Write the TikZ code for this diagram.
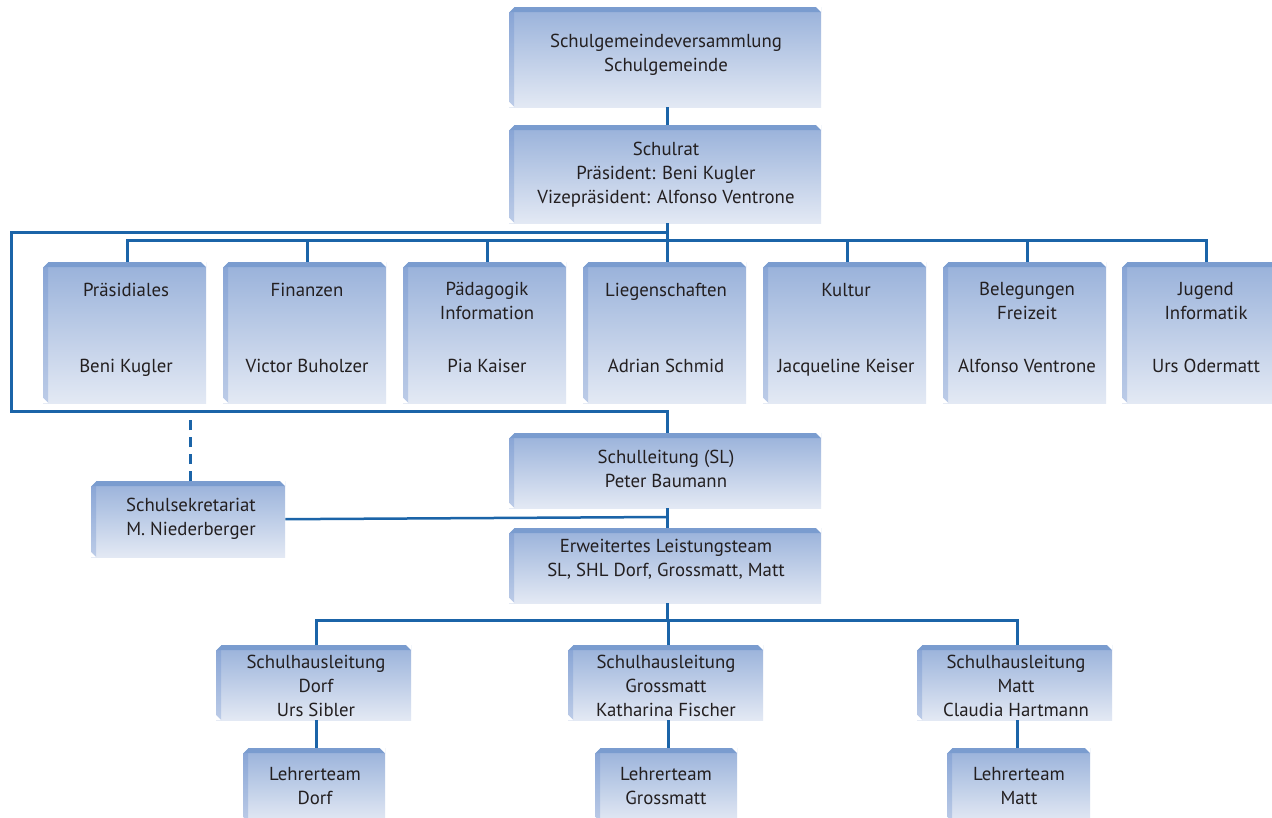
\documentclass[tikz,border=0pt]{standalone}
\usepackage{fontspec}
\setmainfont{PT Sans}
\definecolor{linec}{HTML}{1B64A8}
\definecolor{topc}{HTML}{98B1DA}
\definecolor{botc}{HTML}{E3E9F4}
\definecolor{stripc}{HTML}{7A9CCF}
\definecolor{bevc}{HTML}{5A82C8}
\definecolor{txtc}{HTML}{231F20}
\tikzset{
  box/.style={rectangle, anchor=north west, inner sep=0pt, draw=none,
    top color=topc, bottom color=botc,
    path picture={
      \coordinate (nw) at (path picture bounding box.north west);
      \coordinate (ne) at (path picture bounding box.north east);
      \coordinate (sw) at (path picture bounding box.south west);
      \fill[bevc, opacity=0.28] ($(nw)+(0,-5pt)$) -- ($(nw)+(5pt,-5pt)$) -- ($(sw)+(5pt,0)$) -- ($(sw)+(0,5pt)$) -- cycle;
      \fill[stripc] ($(nw)+(0,-5pt)$) -- ($(nw)+(5pt,0)$) -- ($(ne)+(-5pt,0)$) -- ($(ne)+(0,-5pt)$) -- cycle;
      \fill[white] (nw) -- ($(nw)+(5pt,0)$) -- ($(nw)+(0,-5pt)$) -- cycle;
      \fill[white] (ne) -- ($(ne)+(-5pt,0)$) -- ($(ne)+(0,-5pt)$) -- cycle;
      \fill[white] (sw) -- ($(sw)+(5pt,0)$) -- ($(sw)+(0,5pt)$) -- cycle;
    }},
  txt/.style={align=center, font=\fontsize{18.8}{24}\selectfont, text=txtc, inner sep=0pt},
  txtone/.style={txt, text height=13pt, text depth=4pt},
  conn/.style={draw=linec, line width=3pt},
  xs/.style={xshift=2.5pt}
}
\usetikzlibrary{calc}
\begin{document}
\begin{tikzpicture}[x=1pt,y=-1pt]
\useasboundingbox[fill=white] (0,0) rectangle (1272,818);
% boxes
\node[box, minimum width=312pt, minimum height=100pt] (gem) at (509,7) {};
\node[box, minimum width=312pt, minimum height=98pt] (rat) at (509,125) {};
\foreach \n/\x in {d1/43, d2/223, d3/403, d4/583, d5/763, d6/943, d7/1122}{
  \node[box, minimum width=163pt, minimum height=141pt] (\n) at (\x,262) {};
}
\node[box, minimum width=312pt, minimum height=75pt] (sl) at (509,433) {};
\node[box, minimum width=194pt, minimum height=76pt] (sek) at (91,481) {};
\node[box, minimum width=312pt, minimum height=75pt] (elt) at (509,528) {};
\node[box, minimum width=195pt, minimum height=75pt] (sh1) at (216,645) {};
\node[box, minimum width=195pt, minimum height=75pt] (sh2) at (568,645) {};
\node[box, minimum width=195pt, minimum height=75pt] (sh3) at (917,645) {};
\node[box, minimum width=142pt, minimum height=74pt] (lt1) at (243,748) {};
\node[box, minimum width=142pt, minimum height=74pt] (lt2) at (595,748) {};
\node[box, minimum width=143pt, minimum height=74pt] (lt3) at (947,748) {};
% texts
\node[txt] (gemT) at (666,55) {Schulgemeindeversammlung\\Schulgemeinde};
\node[txt] (ratT) at (666,175) {Schulrat\\Präsident: Beni Kugler\\Vizepräsident: Alfonso Ventrone};
\node[txtone] (d1T) at (126,292) {Präsidiales};
\node[txtone] (d2T) at (307,292) {Finanzen};
\node[txt] (d3T) at (487,301) {Pädagogik\\Information};
\node[txtone] (d4T) at (666,292) {Liegenschaften};
\node[txtone] (d5T) at (846,292) {Kultur};
\node[txt] (d6T) at (1027,301) {Belegungen\\Freizeit};
\node[txt] (d7T) at (1206,301) {Jugend\\Informatik};
\node[txtone] (d1N) at (126,368.5) {Beni Kugler};
\node[txtone] (d2N) at (307,368.5) {Victor Buholzer};
\node[txtone] (d3N) at (487,368.5) {Pia Kaiser};
\node[txtone] (d4N) at (666,368.5) {Adrian Schmid};
\node[txtone] (d5N) at (846,368.5) {Jacqueline Keiser};
\node[txtone] (d6N) at (1027,368.5) {Alfonso Ventrone};
\node[txtone] (d7N) at (1206,368.5) {Urs Odermatt};
\node[txt] (slT) at (666,469) {Schulleitung (SL)\\Peter Baumann};
\node[txt] (sekT) at (191,518.5) {Schulsekretariat\\M. Niederberger};
\node[txt] (eltT) at (666,559.5) {Erweitertes Leistungsteam\\SL, SHL Dorf, Grossmatt, Matt};
\node[txt] (sh1T) at (316,686) {Schulhausleitung\\Dorf\\Urs Sibler};
\node[txt] (sh2T) at (666,686) {Schulhausleitung\\Grossmatt\\Katharina Fischer};
\node[txt] (sh3T) at (1016,686) {Schulhausleitung\\Matt\\Claudia Hartmann};
\node[txt] (lt1T) at (315,786.5) {Lehrerteam\\Dorf};
\node[txt] (lt2T) at (666,786.5) {Lehrerteam\\Grossmatt};
\node[txt] (lt3T) at (1019,786.5) {Lehrerteam\\Matt};
% connectors
\draw[conn] ([xs]gem.south) -- ([xs]rat.north);
\draw[conn] ([xs]rat.south) -- ++(0,18);
\draw[conn] ([xs]d1.north) -- ++(0,-21) -| ([xs]d7.north);
\foreach \n in {d2,d3,d4,d5,d6}{\draw[conn] ([xs]\n.north) -- ++(0,-21);}
\coordinate (fl) at (11,233);
\draw[conn] ([xs]rat.south) |- (fl) -- (11,411) -| ([xs]sl.north);
\draw[conn] ([xs]sl.south) -- ([xs]elt.north);
\coordinate (j) at (667,517);
\draw[conn, line width=2.5pt] (sek.east) -- (j);
\draw[conn, dash pattern=on 10pt off 7pt] ([xs]sek.north) -- ++(0,-61);
\draw[conn] ([xs]elt.south) -- ++(0,17);
\draw[conn] ([xs]sh1.north) -- ++(0,-25) -| ([xs]sh3.north);
\draw[conn] ([xs]sh2.north) -- ++(0,-25);
\draw[conn] ([xs]sh1.south) -- ([xs]sh1.south |- lt1.north);
\draw[conn] ([xs]sh2.south) -- ([xs]sh2.south |- lt2.north);
\draw[conn] ([xs]sh3.south) -- ([xs]sh3.south |- lt3.north);
\end{tikzpicture}
\end{document}
